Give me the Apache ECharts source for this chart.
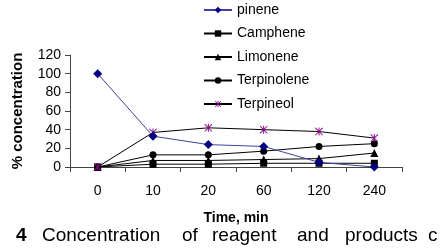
<!DOCTYPE html>
<html><head><meta charset="utf-8">
<script src="https://cdn.jsdelivr.net/npm/echarts@6/dist/echarts.min.js"></script>
<style>html,body{margin:0;padding:0;background:#fff}#c{width:444px;height:248px}</style>
</head><body><div id="c"></div>
<script>
const categories = ['0','10','20','60','120','240'];
const pinene = [100, 33, 24, 22, 5, 0];
const camphene = [0, 3, 3, 4, 4, 4];
const limonene = [0, 7, 7, 8, 9, 15];
const terpinolene = [0, 13, 13, 17, 22, 25];
const terpineol = [0, 37, 42, 40, 38, 31];
const yTicks = [0, 20, 40, 60, 80, 100, 120];

const FF = '"Liberation Sans", Arial, sans-serif';
const chart = echarts.init(document.getElementById('c'), null, {renderer: 'canvas'});
const asterisk = 'path://M4.4,0L5.6,0L5.6,10L4.4,10Z M0,0.8L0.8,0L10,9.2L9.2,10Z M10,0.8L0.8,10L0,9.2L9.2,0Z';
function ser(name, data, symbol, size, color, lineColor) {
  return {
    name, type: 'line', data, symbol, symbolSize: size, showSymbol: true,
    lineStyle: {color: lineColor, width: 1},
    itemStyle: {color: color},
    emphasis: {disabled: true}, animation: false
  };
}
const cap = (text, left, bold) => ({type:'text', left, top: 226,
  style:{text, font:(bold ? 'bold ' : '') + '19px ' + FF, fill:'#000'}});
chart.setOption({
  animation: false,
  grid: {left: 70, right: 42, top: 55, bottom: 81},
  legend: {
    orient: 'vertical', left: 203, top: 3, padding: 0, itemWidth: 28, itemHeight: 8, itemGap: 9.5,
    textStyle: {fontFamily: FF, fontSize: 14, color: '#000', lineHeight: 14},
    data: ['pinene','Camphene','Limonene','Terpinolene','Terpineol']
  },
  xAxis: {
    type: 'category', data: categories, boundaryGap: true,
    axisLine: {lineStyle: {color: '#444', width: 1}},
    axisTick: {show: true, length: 5, interval: 0, lineStyle: {color: '#444'}},
    axisLabel: {fontFamily: FF, fontSize: 14, color: '#000', margin: 17},
    name: 'Time, min', nameLocation: 'middle', nameGap: 44,
    nameTextStyle: {fontFamily: FF, fontSize: 14, fontWeight: 'bold', color: '#000'}
  },
  yAxis: {
    type: 'value', min: 0, max: 120, interval: 20,
    splitLine: {show: false},
    axisLine: {show: true, lineStyle: {color: '#444', width: 1}},
    axisTick: {show: true, length: 5, lineStyle: {color: '#444'}},
    axisLabel: {fontFamily: FF, fontSize: 14, color: '#000', margin: 9,
      formatter: v => yTicks.includes(v) ? String(v) : ''},
    name: '% concentration', nameLocation: 'middle', nameGap: 45, nameRotate: 90,
    nameTextStyle: {fontFamily: FF, fontSize: 15, fontWeight: 'bold', color: '#000'}
  },
  series: [
    ser('Camphene', camphene, 'rect', 7, '#000', '#000'),
    ser('Limonene', limonene, 'triangle', 8, '#000', '#000'),
    ser('Terpinolene', terpinolene, 'circle', 7, '#000', '#000'),
    ser('Terpineol', terpineol, asterisk, 8, '#8B008B', '#000'),
    ser('pinene', pinene, 'diamond', 9, '#000080', '#4040a0')
  ],
  graphic: [
    cap('4', 16, true), cap('Concentration', 42), cap('of', 182), cap('reagent', 212),
    cap('and', 297), cap('products', 345), cap('c', 428)
  ]
});
</script></body></html>
